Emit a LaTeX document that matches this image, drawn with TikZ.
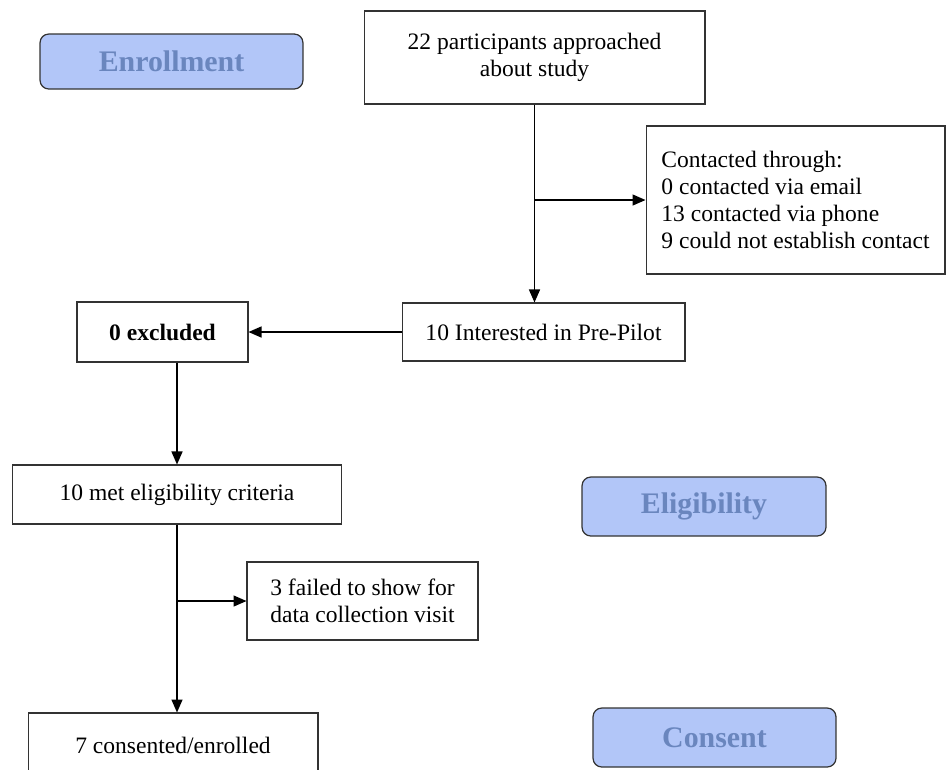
\documentclass[tikz,border=0pt]{standalone}
\usepackage{fontspec}
\setmainfont{Liberation Serif}
\usetikzlibrary{arrows.meta, positioning}
\definecolor{phasefill}{RGB}{178,198,248}
\definecolor{phasetext}{RGB}{106,134,190}
\tikzset{
  box/.style    ={draw=black!80, line width=0.6pt, align=center, inner sep=2pt,
                  font=\fontsize{13.4}{15.4}\selectfont},
  phase/.style  ={draw=black!80, line width=0.7pt, rounded corners=5pt, fill=phasefill,
                  text=phasetext, font=\fontsize{17}{20}\selectfont\bfseries},
  arr/.style    ={-{Triangle[length=2.6mm, width=2.2mm]}, line width=0.8pt},
}

\begin{document}
\begin{tikzpicture}[x=0.02cm, y=-0.02cm]
  \clip (0,0) rectangle (946,769);
  \node[phase, minimum width=5.26cm, minimum height=1.1cm]  (enroll) at (171.5,61.5) {Enrollment};
  \node[phase, minimum width=4.88cm, minimum height=1.18cm] (elig)   at (704,506.5)  {Eligibility};
  \node[phase, minimum width=4.86cm, minimum height=1.18cm] (consent) at (714.5,737.5) {Consent};

  \node[box, minimum width=6.82cm, minimum height=1.86cm] (approach) at (534.5,57.5)
       {22 participants approached\\about study};
  \node[box, minimum width=5.98cm, minimum height=2.96cm, align=left] (contact) at (795.5,200)
       {Contacted through:\\0 contacted via email\\13 contacted via phone\\9 could not establish contact};
  \node[box, minimum width=5.66cm, minimum height=1.16cm] (interest) at (543.5,332)
       {10 Interested in Pre-Pilot};
  \node[box, minimum width=3.42cm, minimum height=1.2cm] (excl) at (162.5,332)
       {\bfseries 0 excluded};
  \node[box, minimum width=6.6cm, minimum height=1.18cm] (met) at (177,494.5)
       {10 met eligibility criteria};
  \node[box, minimum width=4.62cm, minimum height=1.56cm] (failed) at (362.5,601)
       {3 failed to show for\\data collection visit};
  \node[box, minimum width=5.8cm, minimum height=1.28cm] (enrolled) at (173,745)
       {7 consented/enrolled};

  \draw[arr] (approach.south) -- (approach.south |- interest.north);
  \draw[arr] (approach.south |- contact.west) -- (contact.west);
  \draw[arr] (interest) -- (excl);
  \draw[arr] (met.north |- excl.south) -- (met.north);
  \draw[arr] (met.south) -- (met.south |- enrolled.north);
  \draw[arr] (met.south |- failed.west) -- (failed.west);
\end{tikzpicture}
\end{document}
